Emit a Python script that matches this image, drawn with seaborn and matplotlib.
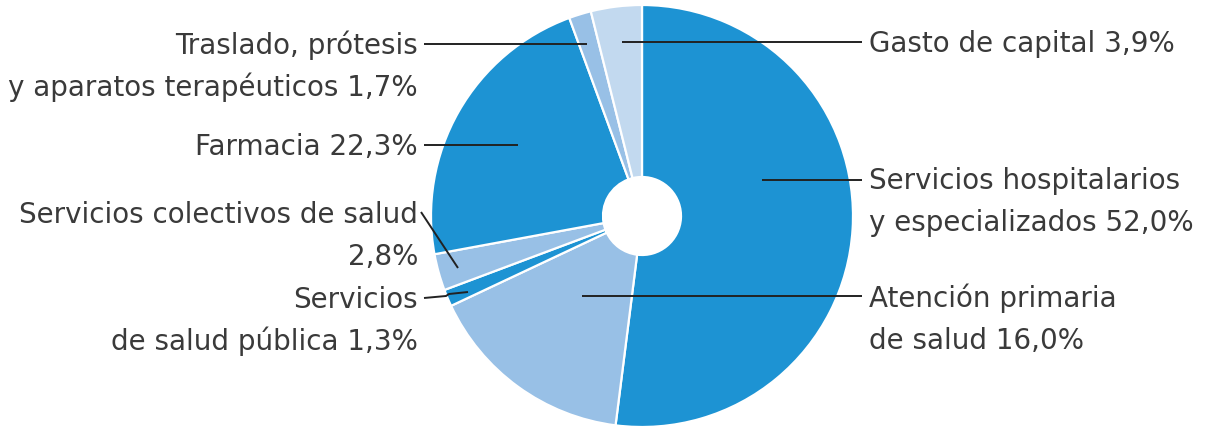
import matplotlib
matplotlib.use("Agg")
import matplotlib.pyplot as plt
import seaborn as sns

sns.set_theme(style="white")
plt.rcParams['font.family'] = ['DejaVu Sans']

# Data
categories = [
    "Servicios hospitalarios\ny especializados 52,0%",
    "Atención primaria\nde salud 16,0%",
    "Servicios\nde salud pública 1,3%",
    "Servicios colectivos de salud\n2,8%",
    "Farmacia 22,3%",
    "Traslado, prótesis\ny aparatos terapéuticos 1,7%",
    "Gasto de capital 3,9%",
]
values = [52.0, 16.0, 1.3, 2.8, 22.3, 1.7, 3.9]

DARK = "#1d93d3"
LIGHT = "#98c0e6"
LIGHTEST = "#c2d9ef"
slice_colors = [DARK, LIGHT, DARK, LIGHT, DARK, LIGHT, LIGHTEST]

W, H = 1206, 428
fig = plt.figure(figsize=(W / 100, H / 100), dpi=100)
ax = fig.add_axes([0, 0, 1, 1])

cx, cy, R, hole = 642, 216, 211, 39
ax.pie(values, colors=slice_colors, startangle=90, counterclock=False,
       center=(cx, H - cy), radius=R,
       wedgeprops=dict(width=R - hole, edgecolor="white", linewidth=1.6))
ax.set_xlim(0, W)
ax.set_ylim(0, H)
ax.set_aspect("auto")
ax.axis("off")

TXT = "#3a3a3a"
FS = 20
LC = "#222222"
LW = 1.4
LINE_GAP = 42

def Y(y):
    return H - y

def line(pts):
    xs = [p[0] for p in pts]
    ys = [Y(p[1]) for p in pts]
    ax.plot(xs, ys, color=LC, lw=LW, solid_capstyle="butt")

def label(idx, x, baseline, ha):
    for k, part in enumerate(categories[idx].split("\n")):
        ax.text(x, Y(baseline + k * LINE_GAP), part, ha=ha, va="baseline",
                fontsize=FS, color=TXT)

# right side (left aligned)
label(6, 869, 52, "left")
line([(622, 42), (862, 42)])

label(0, 869, 189, "left")
line([(762, 180), (862, 180)])

label(1, 869, 307, "left")
line([(582, 296), (862, 296)])

# left side (right aligned)
label(5, 418, 54, "right")
line([(424, 44), (587, 44)])

label(4, 418, 155, "right")
line([(424, 145), (518, 145)])

label(3, 418, 223, "right")
line([(421, 212), (458, 268)])

label(2, 418, 308, "right")
line([(424, 298), (446, 296), (449, 294), (468, 292)])

fig.savefig("out.png", dpi=100)
